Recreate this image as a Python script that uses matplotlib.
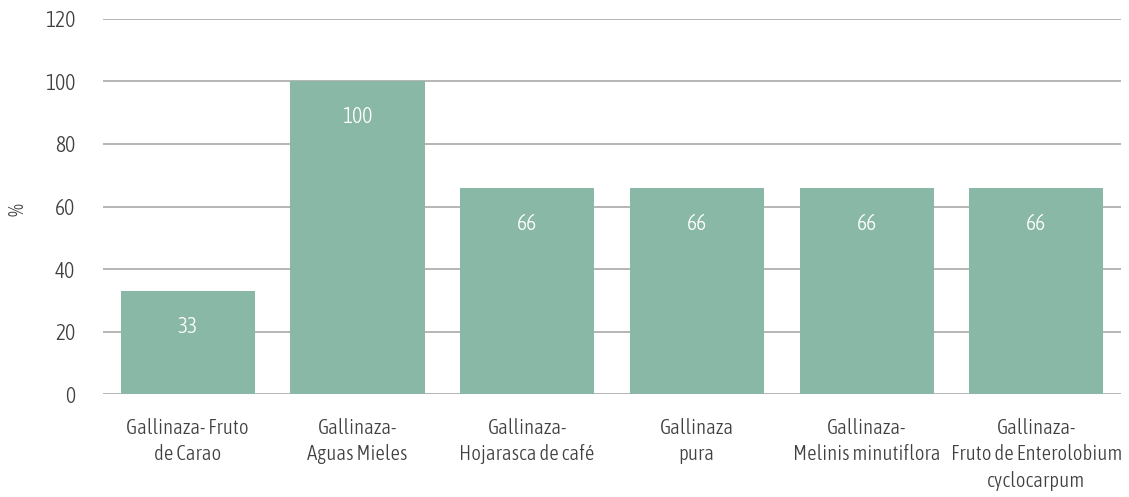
import matplotlib
matplotlib.use("Agg")
import matplotlib.pyplot as plt
from matplotlib import font_manager

categories = ["Gallinaza- Fruto\nde Carao", "Gallinaza-\nAguas Mieles", "Gallinaza-\nHojarasca de café",
              "Gallinaza\npura", "Gallinaza-\nMelinis minutiflora", "Gallinaza-\nFruto de Enterolobium\ncyclocarpum"]
values = [33, 100, 66, 66, 66, 66]
yticks = [0, 20, 40, 60, 80, 100, 120]


def _w(f):
    w = f.weight
    if isinstance(w, str):
        w = font_manager.weight_dict.get(w, 400)
    return w


best = None
bscore = None
for f in font_manager.fontManager.ttflist:
    key = (f.name + " " + f.fname).lower()
    cond = f.stretch in ("condensed", "semi-condensed", "extra-condensed", "ultra-condensed") \
        or "condensed" in key or "narrow" in key
    if not cond or f.style != "normal" or "mono" in key or "serif" in f.name.lower():
        continue
    s = abs(_w(f) - 300) + (0 if "semi" not in key else 50)
    if bscore is None or s < bscore:
        best, bscore = f, s

if best is not None:
    fp = font_manager.FontProperties(fname=best.fname)
    size = 15
else:
    fp = font_manager.FontProperties(family="DejaVu Sans")
    size = 12.5

fig = plt.figure(figsize=(11.29, 4.97), dpi=100)
ax = fig.add_axes([0.0912, 0.2072, 0.9018, 0.7546])
x = list(range(len(categories)))
ax.bar(x, values, width=0.79, color="#89b8a6", zorder=2)
for xi, v in zip(x, values):
    ax.text(xi, v - 11.5, str(v), ha="center", va="center", color="white", fontproperties=fp, fontsize=size + 0.5)
ax.set_xlim(-0.5, len(categories) - 0.5)
ax.set_ylim(0, 120)
ax.set_yticks(yticks)
ax.set_yticklabels([str(t) for t in yticks])
ax.set_xticks(x)
ax.set_xticklabels(categories, linespacing=1.42)
for lab in ax.get_xticklabels() + ax.get_yticklabels():
    lab.set_fontproperties(fp)
    lab.set_fontsize(size + (0.5 if lab in ax.get_yticklabels() else 0))
    lab.set_color("#404040")
ax.tick_params(axis="both", length=0)
ax.tick_params(axis="x", pad=17)
ax.tick_params(axis="y", pad=20)
ax.grid(axis="y", color="#b0b0b0", linewidth=1.3, zorder=0)
for s in ax.spines.values():
    s.set_visible(False)
fig.text(18 / 1129, 1 - 210 / 497, "%", rotation=90, ha="center", va="center",
         fontproperties=fp, fontsize=size, color="#404040")
fig.savefig("out.png", dpi=100)
